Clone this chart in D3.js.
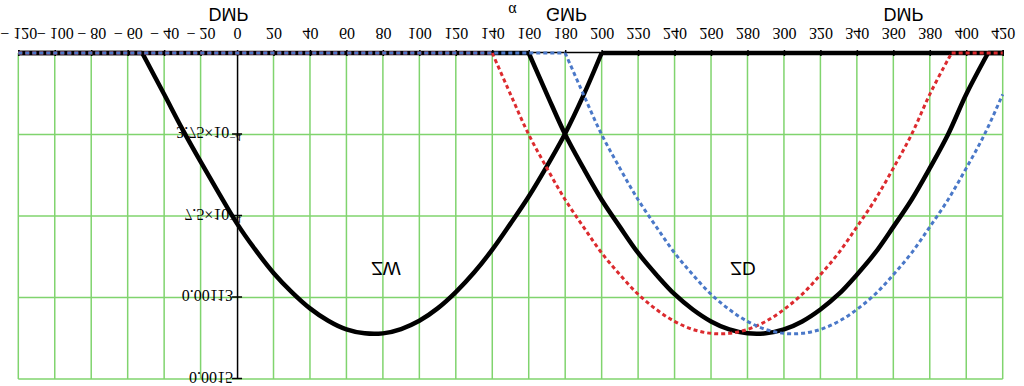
<!doctype html>
<html lang=en>
<head>
  <meta charset=utf-8>
  <title>ZW / ZD against alpha</title>
  <style>
    html, body { margin: 0; padding: 0; background: #fff; }
    svg { display: block; }
    .axis text { font-family: "Liberation Serif", "Times New Roman", serif; font-size: 16px; fill: #000; }
    .axis path, .axis line { stroke: #000; stroke-width: 1.5; }
    .grid line { stroke: #80d46e; stroke-width: 1.5; }
    .note { font-family: "Liberation Sans", Arial, sans-serif; fill: #000; }
  </style>
  <script src="https://cdn.jsdelivr.net/npm/d3@7"></script>
</head>
<body>
<svg id=chart width=1024 height=386></svg>
<script>
  // alpha (degrees) where each curve is above zero; outside it the curve lies on the axis
  const zwAngle = [-52, -40, -30, -20, -10, 0, 10, 20, 30, 40, 50, 60, 70, 80, 90, 100,
    110, 120, 130, 140, 150, 160, 170, 180, 190, 200]
  const zw = [0, 0.00019, 0.00035, 0.0005, 0.000645, 0.000785, 0.000905, 0.001012, 0.0011,
    0.001175, 0.001232, 0.001272, 0.00129, 0.00129, 0.00127, 0.001232, 0.001175, 0.0011,
    0.00101, 0.000905, 0.000785, 0.00066, 0.00052, 0.00037, 0.000195, 0]

  const zdAngle = [160, 170, 180, 190, 200, 210, 220, 230, 240, 250, 260, 270, 280, 290,
    300, 310, 320, 330, 340, 350, 360, 370, 380, 390, 400, 410, 412]
  const zd = [0, 0.00019, 0.000375, 0.00053, 0.000675, 0.0008, 0.00092, 0.00102, 0.00111,
    0.00118, 0.001235, 0.001272, 0.00129, 0.00129, 0.001272, 0.001235, 0.00118, 0.00111,
    0.00102, 0.00092, 0.0008, 0.000675, 0.00053, 0.000375, 0.00019, 0.00003, 0]

  const redAngle = [140, 150, 160, 170, 180, 190, 200, 210, 220, 230, 240, 250, 260, 270,
    280, 290, 300, 310, 320, 330, 340, 350, 360, 370, 380, 390, 392]
  const red = [0, 0.00019, 0.000375, 0.00053, 0.000675, 0.0008, 0.00092, 0.00102, 0.00111,
    0.00118, 0.001235, 0.001272, 0.00129, 0.00129, 0.001272, 0.001235, 0.00118, 0.00111,
    0.00102, 0.00092, 0.0008, 0.000675, 0.00053, 0.000375, 0.00019, 0.00003, 0]

  const blueAngle = [180, 190, 200, 210, 220, 230, 240, 250, 260, 270, 280, 290, 300, 310,
    320, 330, 340, 350, 360, 370, 380, 390, 400, 410, 420]
  const blue = [0, 0.00019, 0.000375, 0.00053, 0.000675, 0.0008, 0.00092, 0.00102, 0.00111,
    0.00118, 0.001235, 0.001272, 0.00129, 0.00129, 0.001272, 0.001235, 0.00118, 0.00111,
    0.00102, 0.00092, 0.0008, 0.000675, 0.00053, 0.000375, 0.00019]

  const xTicks = [-120, -100, -80, -60, -40, -20, 0, 20, 40, 60, 80, 100, 120, 140, 160, 180,
    200, 220, 240, 260, 280, 300, 320, 340, 360, 380, 400, 420]
  const yTicks = [0.000375, 0.00075, 0.001125, 0.0015]
  const yTickLabels = ['3.75×10', '7.5×10', '0.00113', '0.0015']
  const yTickExponents = ['−4', '−4', '', '']

  const width = 1024
  const height = 386

  // the picture is drawn upright, then the whole thing is mirrored top to bottom
  const svg = d3.select('#chart')
  const g = svg.append('g')
    .attr('transform', 'translate(0,' + height + ') scale(1,-1)')

  const x = d3.scaleLinear().domain([-120, 420]).range([18.3, 1002.7])
  const y = d3.scaleLinear().domain([0, 0.0015]).range([333, 7])

  const grid = g.append('g').attr('class', 'grid')
  grid.selectAll('line.v')
    .data(xTicks.filter(d => d !== 0))
    .enter().append('line')
      .attr('class', 'v')
      .attr('x1', d => x(d)).attr('x2', d => x(d))
      .attr('y1', y(0)).attr('y2', y(0.0015))
  grid.selectAll('line.h')
    .data(yTicks)
    .enter().append('line')
      .attr('class', 'h')
      .attr('x1', x(-120)).attr('x2', x(420))
      .attr('y1', d => y(d)).attr('y2', d => y(d))

  const gx = g.append('g')
    .attr('class', 'axis')
    .attr('transform', 'translate(0,' + y(0) + ')')
    .call(d3.axisBottom(x)
      .tickValues(xTicks)
      .tickSizeOuter(0)
      .tickSize(3)
      .tickFormat(d => d < 0 ? '\u2212 ' + (-d) : String(d)))
  gx.selectAll('.tick line').attr('y1', -3).attr('y2', 3)
  gx.selectAll('.tick text').attr('y', 25).attr('dy', 0)

  const gy = g.append('g')
    .attr('class', 'axis')
    .attr('transform', 'translate(' + x(0) + ',0)')
    .call(d3.axisLeft(y).tickValues(yTicks).tickSizeOuter(0).tickFormat(''))
  gy.selectAll('.tick line').attr('x1', -5).attr('x2', 5)
  gy.selectAll('.tick text').each(function (d, i) {
    const t = d3.select(this)
      .attr('y', 7).attr('dy', 0)
      .attr('x', yTickExponents[i] ? 4 : -4)
      .text(yTickLabels[i])
    if (yTickExponents[i]) {
      t.append('tspan')
        .attr('dy', -7)
        .attr('font-size', 11)
        .text(yTickExponents[i])
    }
  })

  const hump = angles => d3.line()
    .x((d, i) => x(angles[i]))
    .y(d => y(d))
    .curve(d3.curveCatmullRom.alpha(0.5))

  // a curve: flat runs on the axis outside its angles, smooth hump inside
  function curve(angles, values, stroke, widthPx, dash) {
    const [lo, hi] = x.domain()
    const flats = []
    if (angles[0] > lo) flats.push([lo, angles[0]])
    if (angles[angles.length - 1] < hi) flats.push([angles[angles.length - 1], hi])
    const s = g.append('g')
      .attr('fill', 'none')
      .attr('stroke', stroke)
      .attr('stroke-width', widthPx)
      .attr('stroke-dasharray', dash)
    s.selectAll('line')
      .data(flats)
      .enter().append('line')
        .attr('x1', d => x(d[0])).attr('x2', d => x(d[1]))
        .attr('y1', y(0)).attr('y2', y(0))
    s.append('path').datum(values).attr('d', hump(angles))
  }

  curve(zwAngle, zw, '#000', 4.5, null)
  curve(zdAngle, zd, '#000', 4.5, null)
  curve(redAngle, red, '#dc2a2e', 3, '4 3')
  curve(blueAngle, blue, '#4a78c8', 3, '4 3')

  const notes = [
    { text: 'DMP', x: 228.5, y: 378, size: 18 },
    { text: 'GMP', x: 566.5, y: 378, size: 18 },
    { text: 'DMP', x: 903.5, y: 378, size: 18 },
    { text: 'ZW', x: 386, y: 124, size: 19 },
    { text: 'ZD', x: 743, y: 124, size: 19 },
  ]
  g.selectAll('text.note')
    .data(notes)
    .enter().append('text')
      .attr('class', 'note')
      .attr('x', d => d.x).attr('y', d => d.y)
      .attr('text-anchor', 'middle')
      .attr('font-size', d => d.size)
      .text(d => d.text)

  g.append('text')
    .attr('x', 512.5).attr('y', 381)
    .attr('text-anchor', 'middle')
    .attr('font-family', '"Liberation Serif", serif')
    .attr('font-size', 16)
    .text('α')
</script>
</body>
</html>
